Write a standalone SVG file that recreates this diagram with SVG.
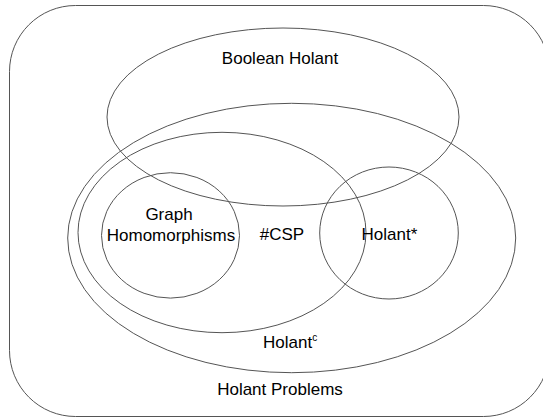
<svg xmlns="http://www.w3.org/2000/svg" width="543" height="417" viewBox="0 0 543 417">
<style>
.s{fill:none;stroke:#555;stroke-width:1}
.t{font-family:"Liberation Sans",Arial,sans-serif;font-size:17px;fill:#000;text-anchor:middle}
</style>
<rect width="543" height="417" fill="#fff"/>
<g id="holant-problems">
<rect class="s" x="9.5" y="5.5" width="540" height="411" rx="66" ry="66"/>
<text class="t" x="280" y="395">Holant Problems</text>
</g>
<g id="boolean-holant">
<ellipse class="s" cx="283" cy="117" rx="176" ry="89"/>
<text class="t" x="280" y="64">Boolean Holant</text>
</g>
<g id="holant-c">
<ellipse class="s" cx="291.7" cy="238" rx="224" ry="134.7"/>
<text class="t" x="287" y="348" text-anchor="start" style="text-anchor:start" dx="-24">Holant<tspan font-size="10" dy="-7">c</tspan></text>
</g>
<g id="csp">
<ellipse class="s" cx="222" cy="232.5" rx="144" ry="100.2"/>
<text class="t" x="282" y="240">#CSP</text>
</g>
<g id="graph-hom">
<ellipse class="s" cx="170.5" cy="235.4" rx="69" ry="62.7"/>
<text class="t" x="169" y="220">Graph</text>
<text class="t" x="171" y="241">Homomorphisms</text>
</g>
<g id="holant-star">
<ellipse class="s" cx="389" cy="233" rx="69.3" ry="66"/>
<text class="t" x="361.5" y="239.5" style="text-anchor:start">Holant*</text>
</g>
<g id="connectors"/>
</svg>
